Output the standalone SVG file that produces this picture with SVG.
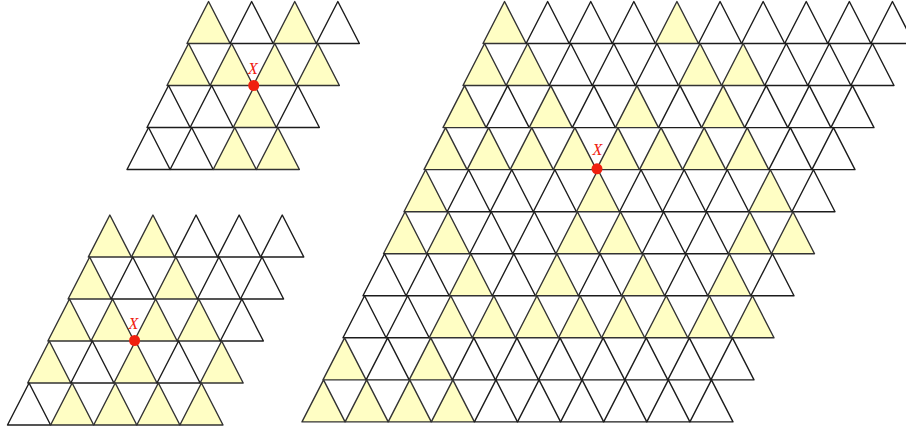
<svg xmlns="http://www.w3.org/2000/svg" width="906" height="432" viewBox="0 0 906 432">
<style>
  use { fill:#ffffff; stroke:#1c1c1c; stroke-width:1.4; stroke-linejoin:round; }
  use.y { fill:#fffec4; stroke:#333333; }
  .dot { fill:#f0200f; }
  .lbl { fill:#f0200f; font-family:"Liberation Serif","DejaVu Serif",serif; font-style:italic; font-size:16px; text-anchor:middle; }
</style>
<defs>
  <polygon id="tri" points="0,42 21.55,0 43.1,42"/>
</defs>
<rect width="906" height="432" fill="#ffffff"/>

<g id="grid-small-top">
  <use href="#tri" class="y" x="187" y="1.5"/><use href="#tri" x="230.1" y="1.5"/><use href="#tri" class="y" x="273.2" y="1.5"/><use href="#tri" x="316.3" y="1.5"/>
  <use href="#tri" class="y" x="167" y="43.5"/><use href="#tri" class="y" x="210.1" y="43.5"/><use href="#tri" class="y" x="253.2" y="43.5"/><use href="#tri" class="y" x="296.3" y="43.5"/>
  <use href="#tri" x="147" y="85.5"/><use href="#tri" x="190.1" y="85.5"/><use href="#tri" class="y" x="233.2" y="85.5"/><use href="#tri" x="276.3" y="85.5"/>
  <use href="#tri" x="127" y="127.5"/><use href="#tri" x="170.1" y="127.5"/><use href="#tri" class="y" x="213.2" y="127.5"/><use href="#tri" class="y" x="256.3" y="127.5"/>
  <circle class="dot" cx="253.7" cy="85.5" r="5.5"/>
  <text class="lbl" x="253" y="73.5">X</text>
</g>

<g id="grid-small-bottom">
  <use href="#tri" class="y" x="88.3" y="215"/><use href="#tri" class="y" x="131.4" y="215"/><use href="#tri" x="174.5" y="215"/><use href="#tri" x="217.6" y="215"/><use href="#tri" x="260.7" y="215"/>
  <use href="#tri" class="y" x="68.1" y="257"/><use href="#tri" x="111.2" y="257"/><use href="#tri" class="y" x="154.3" y="257"/><use href="#tri" x="197.4" y="257"/><use href="#tri" x="240.5" y="257"/>
  <use href="#tri" class="y" x="47.9" y="299"/><use href="#tri" class="y" x="91" y="299"/><use href="#tri" class="y" x="134.1" y="299"/><use href="#tri" class="y" x="177.2" y="299"/><use href="#tri" x="220.3" y="299"/>
  <use href="#tri" class="y" x="27.7" y="341"/><use href="#tri" x="70.8" y="341"/><use href="#tri" class="y" x="113.9" y="341"/><use href="#tri" x="157" y="341"/><use href="#tri" class="y" x="200.1" y="341"/>
  <use href="#tri" x="7.5" y="383"/><use href="#tri" class="y" x="50.6" y="383"/><use href="#tri" class="y" x="93.7" y="383"/><use href="#tri" class="y" x="136.8" y="383"/><use href="#tri" class="y" x="179.9" y="383"/>
  <circle class="dot" cx="134.6" cy="340.5" r="5.5"/>
  <text class="lbl" x="133.5" y="328.5">X</text>
</g>

<g id="grid-large">
  <use href="#tri" class="y" x="483" y="1.5"/><use href="#tri" x="526.1" y="1.5"/><use href="#tri" x="569.2" y="1.5"/><use href="#tri" x="612.3" y="1.5"/><use href="#tri" class="y" x="655.4" y="1.5"/><use href="#tri" x="698.5" y="1.5"/><use href="#tri" x="741.6" y="1.5"/><use href="#tri" x="784.7" y="1.5"/><use href="#tri" x="827.8" y="1.5"/><use href="#tri" x="870.9" y="1.5"/>
  <use href="#tri" class="y" x="463" y="43.5"/><use href="#tri" class="y" x="506.1" y="43.5"/><use href="#tri" x="549.2" y="43.5"/><use href="#tri" x="592.3" y="43.5"/><use href="#tri" x="635.4" y="43.5"/><use href="#tri" class="y" x="678.5" y="43.5"/><use href="#tri" class="y" x="721.6" y="43.5"/><use href="#tri" x="764.7" y="43.5"/><use href="#tri" x="807.8" y="43.5"/><use href="#tri" x="850.9" y="43.5"/>
  <use href="#tri" class="y" x="443" y="85.6"/><use href="#tri" x="486.1" y="85.6"/><use href="#tri" class="y" x="529.2" y="85.6"/><use href="#tri" x="572.3" y="85.6"/><use href="#tri" class="y" x="615.4" y="85.6"/><use href="#tri" x="658.5" y="85.6"/><use href="#tri" class="y" x="701.6" y="85.6"/><use href="#tri" x="744.7" y="85.6"/><use href="#tri" x="787.8" y="85.6"/><use href="#tri" x="830.9" y="85.6"/>
  <use href="#tri" class="y" x="424" y="127.6"/><use href="#tri" class="y" x="467.1" y="127.6"/><use href="#tri" class="y" x="510.2" y="127.6"/><use href="#tri" class="y" x="553.3" y="127.6"/><use href="#tri" class="y" x="596.4" y="127.6"/><use href="#tri" class="y" x="639.5" y="127.6"/><use href="#tri" class="y" x="682.6" y="127.6"/><use href="#tri" class="y" x="725.7" y="127.6"/><use href="#tri" x="768.8" y="127.6"/><use href="#tri" x="811.9" y="127.6"/>
  <use href="#tri" class="y" x="404" y="169.7"/><use href="#tri" x="447.1" y="169.7"/><use href="#tri" x="490.2" y="169.7"/><use href="#tri" x="533.3" y="169.7"/><use href="#tri" class="y" x="576.4" y="169.7"/><use href="#tri" x="619.5" y="169.7"/><use href="#tri" x="662.6" y="169.7"/><use href="#tri" x="705.7" y="169.7"/><use href="#tri" class="y" x="748.8" y="169.7"/><use href="#tri" x="791.9" y="169.7"/>
  <use href="#tri" class="y" x="383.5" y="211.7"/><use href="#tri" class="y" x="426.6" y="211.7"/><use href="#tri" x="469.7" y="211.7"/><use href="#tri" x="512.8" y="211.7"/><use href="#tri" class="y" x="555.9" y="211.7"/><use href="#tri" class="y" x="599" y="211.7"/><use href="#tri" x="642.1" y="211.7"/><use href="#tri" x="685.2" y="211.7"/><use href="#tri" class="y" x="728.3" y="211.7"/><use href="#tri" class="y" x="771.4" y="211.7"/>
  <use href="#tri" x="363" y="253.8"/><use href="#tri" x="406.1" y="253.8"/><use href="#tri" class="y" x="449.2" y="253.8"/><use href="#tri" x="492.3" y="253.8"/><use href="#tri" class="y" x="535.4" y="253.8"/><use href="#tri" x="578.5" y="253.8"/><use href="#tri" class="y" x="621.6" y="253.8"/><use href="#tri" x="664.7" y="253.8"/><use href="#tri" class="y" x="707.8" y="253.8"/><use href="#tri" x="750.9" y="253.8"/>
  <use href="#tri" x="343" y="295.8"/><use href="#tri" x="386.1" y="295.8"/><use href="#tri" class="y" x="429.2" y="295.8"/><use href="#tri" class="y" x="472.3" y="295.8"/><use href="#tri" class="y" x="515.4" y="295.8"/><use href="#tri" class="y" x="558.5" y="295.8"/><use href="#tri" class="y" x="601.6" y="295.8"/><use href="#tri" class="y" x="644.7" y="295.8"/><use href="#tri" class="y" x="687.8" y="295.8"/><use href="#tri" class="y" x="730.9" y="295.8"/>
  <use href="#tri" class="y" x="323" y="337.9"/><use href="#tri" x="366.1" y="337.9"/><use href="#tri" class="y" x="409.2" y="337.9"/><use href="#tri" x="452.3" y="337.9"/><use href="#tri" x="495.4" y="337.9"/><use href="#tri" x="538.5" y="337.9"/><use href="#tri" x="581.6" y="337.9"/><use href="#tri" x="624.7" y="337.9"/><use href="#tri" x="667.8" y="337.9"/><use href="#tri" x="710.9" y="337.9"/>
  <use href="#tri" class="y" x="302" y="379.9"/><use href="#tri" class="y" x="345.1" y="379.9"/><use href="#tri" class="y" x="388.2" y="379.9"/><use href="#tri" class="y" x="431.3" y="379.9"/><use href="#tri" x="474.4" y="379.9"/><use href="#tri" x="517.5" y="379.9"/><use href="#tri" x="560.6" y="379.9"/><use href="#tri" x="603.7" y="379.9"/><use href="#tri" x="646.8" y="379.9"/><use href="#tri" x="689.9" y="379.9"/>
  <circle class="dot" cx="597" cy="168.8" r="5.5"/>
  <text class="lbl" x="597.5" y="154.5">X</text>
</g>
</svg>
